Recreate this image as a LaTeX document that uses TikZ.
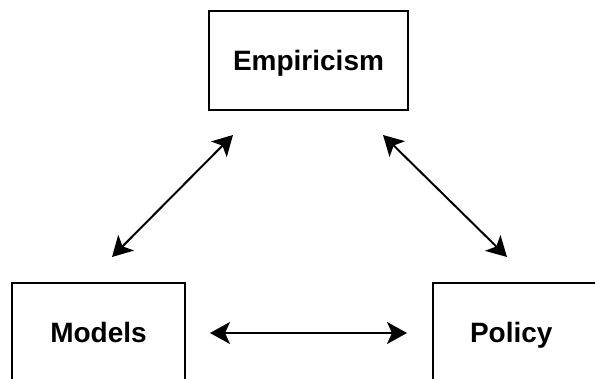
\documentclass[tikz,border=0pt]{standalone}
\usepackage{fontspec}
\setmainfont{Liberation Sans}
\usetikzlibrary{arrows.meta}
\begin{document}
\begin{tikzpicture}[x=1pt,y=-1pt]
        \tikzstyle{box}=[rectangle,draw=black,line width=2pt,minimum height=99pt,text height=20pt,text depth=0pt,font=\fontsize{28}{34}\selectfont\bfseries]
        \tikzstyle{edge}=[draw, line width=2pt, {Stealth[length=20pt,width=22pt,inset=5pt]}-{Stealth[length=20pt,width=22pt,inset=5pt]}]
        \clip (0,0) rectangle (595,378);
        \begin{scope}
            \node [box,minimum width=199pt] (emp) at (308.5,60.5) {Empiricism};
            \node [box,minimum width=173pt] (mod) at (98.5,332.5) {Models};
            \node [box,inner xsep=37pt,text width=99pt,align=left] (pol) at (519.5,332.5) {Policy};
            \coordinate (e1) at (233,135);
            \coordinate (e2) at (383,135);
            \coordinate (m1) at (112,257);
            \coordinate (m2) at (210,333);
            \coordinate (p1) at (507,257);
            \coordinate (p2) at (407,333);
            \path[edge] (e1) -- (m1);
            \path[edge] (e2) -- (p1);
            \path[edge] (m2) -- (p2);
        \end{scope}
\end{tikzpicture}
\end{document}
